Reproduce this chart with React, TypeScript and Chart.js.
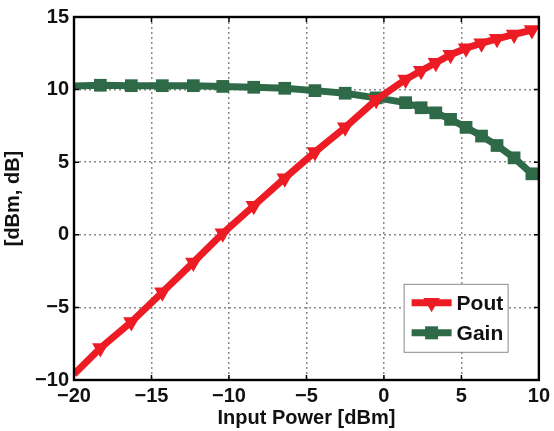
import React, { useEffect, useRef } from "react";
import { Chart, registerables } from "chart.js";

Chart.register(...registerables);

const inputPower = [-20, -18.3, -16.3, -14.3, -12.3, -10.4, -8.4, -6.4, -4.45, -2.5, -0.5, 1.4, 2.4, 3.35, 4.3, 5.3, 6.3, 7.3, 8.4, 9.55];
const poutValues = [-9.6, -7.8, -6.0, -3.95, -1.9, 0.1, 2.0, 3.9, 5.7, 7.4, 9.3, 10.7, 11.3, 11.85, 12.4, 12.85, 13.2, 13.5, 13.8, 14.1];
const gainValues = [10.25, 10.3, 10.27, 10.27, 10.27, 10.22, 10.16, 10.09, 9.93, 9.75, 9.43, 9.1, 8.75, 8.4, 7.95, 7.4, 6.8, 6.15, 5.3, 4.2];

const seriesLabels = ["Pout", "Gain"];
const xTickStep = 5;
const yTickStep = 5;
const xRange = [-20, 10];
const yRange = [-10, 15];
const xTitle = "Input Power [dBm]";
const yTitle = "[dBm, dB]";

const RED = "#ED1C24";
const GREEN = "#2E6A47";
const FONT = "'Liberation Sans', Arial, Helvetica, sans-serif";

const fmt = (v: number) => (v < 0 ? "\u2212" + Math.abs(v) : String(v));

const boxPlugin = {
  id: "matlabBox",
  afterDraw(chart: any) {
    const { ctx, chartArea: a, scales } = chart;
    ctx.save();
    ctx.strokeStyle = "#000";
    ctx.lineWidth = 1.5;
    const tl = 5;
    scales.x.ticks.forEach((t: any) => {
      const px = scales.x.getPixelForValue(t.value);
      ctx.beginPath();
      ctx.moveTo(px, a.bottom);
      ctx.lineTo(px, a.bottom - tl);
      ctx.moveTo(px, a.top);
      ctx.lineTo(px, a.top + tl);
      ctx.stroke();
    });
    scales.y.ticks.forEach((t: any) => {
      const py = scales.y.getPixelForValue(t.value);
      ctx.beginPath();
      ctx.moveTo(a.left, py);
      ctx.lineTo(a.left + tl, py);
      ctx.moveTo(a.right, py);
      ctx.lineTo(a.right - tl, py);
      ctx.stroke();
    });
    ctx.lineWidth = 2.4;
    ctx.strokeRect(a.left, a.top, a.right - a.left, a.bottom - a.top);

    // legend
    const lx = a.left + (a.right - a.left) * 0.709;
    const ly = a.top + (a.bottom - a.top) * 0.735;
    const lw = 104;
    const lh = 68;
    ctx.fillStyle = "#fff";
    ctx.fillRect(lx, ly, lw, lh);
    ctx.strokeStyle = "#8a8a8a";
    ctx.lineWidth = 1;
    ctx.strokeRect(lx + 0.5, ly + 0.5, lw, lh);
    chart.data.datasets.forEach((ds: any, i: number) => {
      const cy = ly + 19 + i * 30;
      ctx.strokeStyle = ds.borderColor;
      ctx.lineWidth = 7;
      ctx.beginPath();
      ctx.moveTo(lx + 8, cy);
      ctx.lineTo(lx + 48, cy);
      ctx.stroke();
      ctx.fillStyle = ds.borderColor;
      ctx.beginPath();
      if (ds.pointStyle === "triangle") {
        const r = 9.5;
        const cx = lx + 28;
        ctx.moveTo(cx, cy + r);
        ctx.lineTo(cx - r * 0.866, cy - r * 0.5);
        ctx.lineTo(cx + r * 0.866, cy - r * 0.5);
        ctx.closePath();
      } else {
        const s = 6.5;
        ctx.rect(lx + 28 - s, cy - s, 2 * s, 2 * s);
      }
      ctx.fill();
      ctx.fillStyle = "#111";
      ctx.font = `bold 21px ${FONT}`;
      ctx.textBaseline = "middle";
      ctx.textAlign = "left";
      ctx.fillText(ds.label, lx + 53, cy + 1);
    });
    ctx.restore();
  },
};

export default function App() {
  const ref = useRef<HTMLCanvasElement | null>(null);
  useEffect(() => {
    document.body.style.margin = "0";
    const triRadii = inputPower.map((_, i) => (i === 0 ? 0 : 9.5));
    const sqRadii = inputPower.map((_, i) => (i === 0 ? 0 : 9));
    const chart = new Chart(ref.current as HTMLCanvasElement, {
      type: "scatter",
      data: {
        datasets: [
          {
            label: seriesLabels[0],
            data: inputPower.map((x, i) => ({ x, y: poutValues[i] })),
            showLine: true,
            borderColor: RED,
            backgroundColor: RED,
            borderWidth: 7,
            pointStyle: "triangle",
            rotation: 180,
            pointRadius: triRadii,
            pointBackgroundColor: RED,
            pointBorderColor: RED,
            pointBorderWidth: 0,
            order: 1,
          },
          {
            label: seriesLabels[1],
            data: inputPower.map((x, i) => ({ x, y: gainValues[i] })),
            showLine: true,
            borderColor: GREEN,
            backgroundColor: GREEN,
            borderWidth: 7,
            pointStyle: "rect",
            pointRadius: sqRadii,
            pointBackgroundColor: GREEN,
            pointBorderColor: GREEN,
            pointBorderWidth: 0,
            order: 2,
          },
        ],
      },
      options: {
        animation: false,
        responsive: false,
        maintainAspectRatio: false,
        layout: { padding: { top: 14, right: 14, left: 0, bottom: 0 } },
        plugins: { legend: { display: false }, tooltip: { enabled: false } },
        scales: {
          x: {
            type: "linear",
            min: xRange[0],
            max: xRange[1],
            afterFit: (s: any) => {
              s.height = 51;
            },
            ticks: {
              stepSize: xTickStep,
              color: "#111",
              font: { family: FONT, size: 20, weight: "bold" },
              padding: 4,
              callback: (v: any) => fmt(Number(v)),
            },
            grid: { color: "#8a8a8a", lineWidth: 1.5, drawTicks: false },
            border: { display: false, dash: [2, 3] },
            title: {
              display: true,
              text: xTitle,
              color: "#111",
              font: { family: FONT, size: 20, weight: "bold" },
              padding: { top: 0, bottom: 1 },
            },
          },
          y: {
            type: "linear",
            min: yRange[0],
            max: yRange[1],
            afterFit: (s: any) => {
              s.width = 74;
            },
            ticks: {
              stepSize: yTickStep,
              color: "#111",
              font: { family: FONT, size: 20, weight: "bold" },
              padding: 5,
              callback: (v: any) => fmt(Number(v)),
            },
            grid: { color: "#8a8a8a", lineWidth: 1.5, drawTicks: false },
            border: { display: false, dash: [2, 3] },
            title: {
              display: true,
              text: yTitle,
              color: "#111",
              font: { family: FONT, size: 20, weight: "bold" },
              padding: { top: 1, bottom: 0 },
            },
          },
        },
      },
      plugins: [boxPlugin],
    });
    return () => chart.destroy();
  }, []);
  return (
    <div style={{ width: 554, height: 431, background: "#fff" }}>
      <canvas ref={ref} width={554} height={431} style={{ display: "block" }} />
    </div>
  );
}
